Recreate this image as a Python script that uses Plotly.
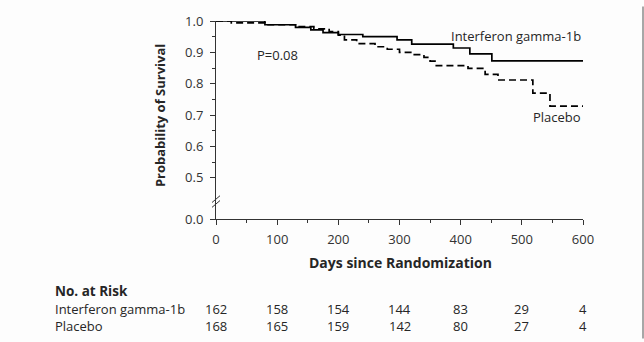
import plotly.graph_objects as go

# Kaplan-Meier step data (days, survival probability)
ifn_days = [0, 80, 130, 155, 175, 200, 240, 296, 320, 388, 415, 451, 600]
ifn_surv = [1.0, 0.988, 0.980, 0.972, 0.963, 0.957, 0.950, 0.940, 0.926, 0.914, 0.895, 0.873, 0.873]

pbo_days = [0, 25, 80, 130, 160, 185, 200, 210, 230, 260, 280, 300, 320, 340, 350, 358, 412, 440, 461, 518, 546, 600]
pbo_surv = [1.0, 0.994, 0.988, 0.982, 0.975, 0.966, 0.955, 0.940, 0.928, 0.918, 0.910, 0.900, 0.893,
            0.884, 0.872, 0.858, 0.849, 0.830, 0.812, 0.770, 0.729, 0.729]

risk_days = [0, 100, 200, 300, 400, 500, 600]
risk_ifn = [162, 158, 154, 144, 83, 29, 4]
risk_pbo = [168, 165, 159, 142, 80, 27, 4]

y_labels = ["0.0", "0.5", "0.6", "0.7", "0.8", "0.9", "1.0"]
y_values = [0.0, 0.5, 0.6, 0.7, 0.8, 0.9, 1.0]

BREAK_GAP = 0.131  # axis units given to the 0.0-0.5 break


def ty(v):
    return v if v >= 0.5 else 0.5 - (0.5 - v) * BREAK_GAP / 0.5


FONT = "Open Sans"
TXT = "#262626"

fig = go.Figure()
fig.add_trace(go.Scatter(x=ifn_days, y=[ty(v) for v in ifn_surv], mode="lines",
                         line=dict(shape="hv", color="black", width=1.7),
                         cliponaxis=False, showlegend=False, hoverinfo="skip"))
fig.add_trace(go.Scatter(x=pbo_days, y=[ty(v) for v in pbo_surv], mode="lines",
                         line=dict(shape="hv", color="black", width=1.7, dash="7px,4px"),
                         cliponaxis=False, showlegend=False, hoverinfo="skip"))

W, H = 644, 342
L, R, T, B = 216, 61, 15, 123
pw, ph = W - L - R, H - T - B


def px(xp):
    return (xp - L) / pw


def py(yp):
    return (H - B - yp) / ph


ann = []


def add(text, x, y, xanchor="center", size=13, bold=False, xref="paper", angle=0, color=TXT):
    ann.append(dict(text=f"<b>{text}</b>" if bold else text, x=x, y=y, xref=xref, yref="paper",
                    xanchor=xanchor, yanchor="middle", showarrow=False, textangle=angle,
                    font=dict(family=FONT, size=size, color=color)))


add("Interferon gamma-1b", 1.0, py(30), xanchor="right", size=13)
add("Placebo", 1.0, py(114), xanchor="right", size=13)
add("P=0.08", px(277), py(50), size=13)
add("Probability of Survival", px(160), py(113), size=13, bold=True, angle=-90)
add("Days since Randomization", px(400), py(264), size=14, bold=True)
add("No. at Risk", px(53), py(293), xanchor="left", size=13.5, bold=True)
add("Interferon gamma-1b", px(53), py(312), xanchor="left", size=13)
add("Placebo", px(53), py(329), xanchor="left", size=13)
for d, a, b in zip(risk_days, risk_ifn, risk_pbo):
    add(str(a), d, py(312), xref="x", size=13)
    add(str(b), d, py(329), xref="x", size=13)

shapes = [
    # axis break marks
    dict(type="line", xref="paper", yref="paper", x0=px(212), x1=px(220), y0=py(202), y1=py(195),
         line=dict(color="#333", width=1)),
    dict(type="line", xref="paper", yref="paper", x0=px(212), x1=px(220), y0=py(207), y1=py(200),
         line=dict(color="#333", width=1)),
    # right border
    dict(type="line", xref="paper", yref="paper", x0=px(643), x1=px(643), y0=py(0), y1=py(342),
         line=dict(color="#8a8a8a", width=1.5)),
]

fig.update_layout(
    width=W, height=H,
    margin=dict(l=L, r=R, t=T, b=B, pad=0),
    paper_bgcolor="#fdfdfd", plot_bgcolor="#fdfdfd",
    annotations=ann, shapes=shapes,
    xaxis=dict(range=[0, 600], showline=True, linecolor="#333", linewidth=1,
               ticks="outside", ticklen=5, tickcolor="#333", tickmode="array",
               tickvals=risk_days, ticktext=[str(d) for d in risk_days],
               minor=dict(tickvals=[50, 150, 250, 350, 450, 550], ticks="outside", ticklen=3, tickcolor="#333"),
               showgrid=False, zeroline=False, ticklabelstandoff=3,
               tickfont=dict(family=FONT, size=13, color="#333")),
    yaxis=dict(range=[ty(0.0), 1.0], showline=True, linecolor="#333", linewidth=1,
               ticks="outside", ticklen=5, tickcolor="#333", tickmode="array",
               tickvals=[ty(v) for v in y_values], ticktext=y_labels,
               minor=dict(tickvals=[0.55, 0.65, 0.75, 0.85, 0.95], ticks="outside", ticklen=3, tickcolor="#333"),
               showgrid=False, zeroline=False, ticklabelstandoff=4,
               tickfont=dict(family=FONT, size=13, color="#333")),
)

fig.write_html("out.html")
